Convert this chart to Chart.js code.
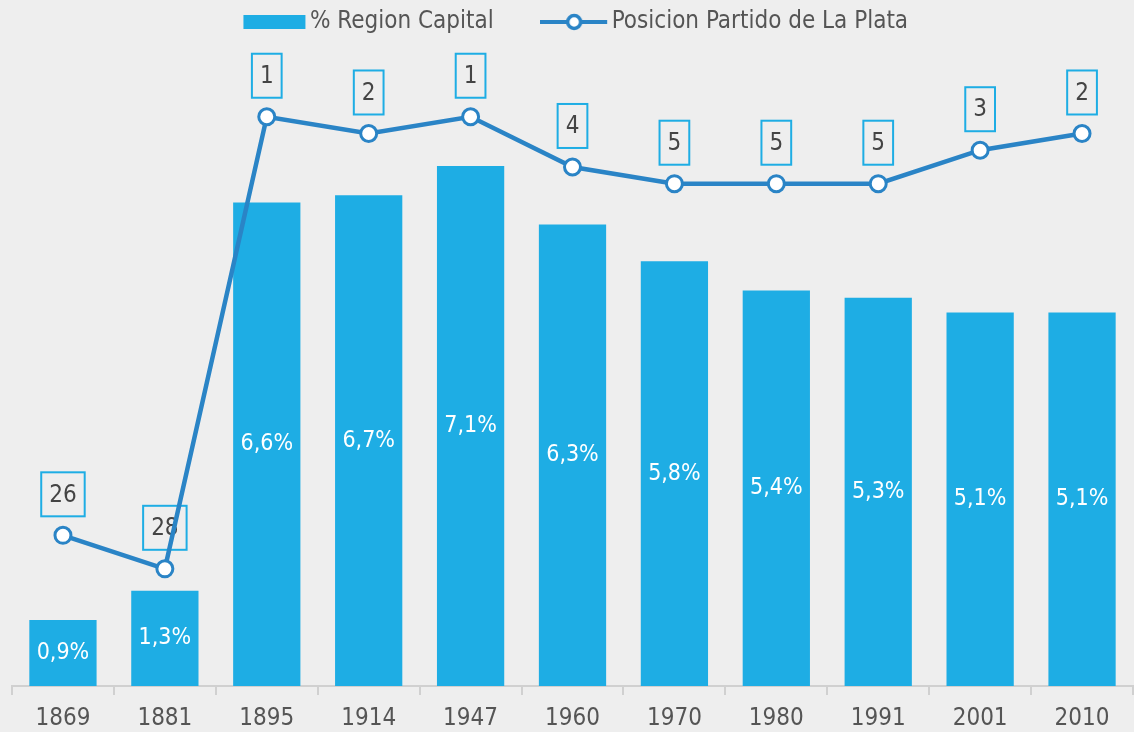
<!DOCTYPE html>
<html>
<head>
<meta charset="utf-8">
<script src="https://cdn.jsdelivr.net/npm/chart.js@4/dist/chart.umd.min.js"></script>
<style>
  html, body { margin: 0; padding: 0; background: #eeeeee; overflow: hidden; }
  #wrap { width: 1144px; height: 732px; }
</style>
</head>
<body>
<div id="wrap"><canvas id="chart"></canvas></div>
<script>
const years = ["1869", "1881", "1895", "1914", "1947", "1960", "1970", "1980", "1991", "2001", "2010"];
const regionShare = [0.9, 1.3, 6.6, 6.7, 7.1, 6.3, 5.8, 5.4, 5.3, 5.1, 5.1];
const laPlataRank = [26, 28, 1, 2, 1, 4, 5, 5, 5, 3, 2];

const FONT = "'DejaVu Sans Condensed', 'Liberation Sans Narrow', sans-serif";
const BAR = "#1eade4";
const LINE = "#2a84c6";

// legend swatches, same width so the shared pointStyleWidth fits both
function barSwatch() {
  const c = document.createElement("canvas");
  c.width = 69; c.height = 16;
  const g = c.getContext("2d");
  g.fillStyle = BAR;
  g.fillRect(5, 1, 62, 14);
  return c;
}
function lineSwatch() {
  const c = document.createElement("canvas");
  c.width = 69; c.height = 18;
  const g = c.getContext("2d");
  g.strokeStyle = LINE;
  g.lineWidth = 4;
  g.beginPath(); g.moveTo(0, 9); g.lineTo(67, 9); g.stroke();
  g.beginPath(); g.arc(34, 9, 6.5, 0, Math.PI * 2);
  g.fillStyle = "#fff"; g.fill();
  g.lineWidth = 3.5; g.stroke();
  return c;
}

const valueLabels = {
  id: "valueLabels",
  beforeDatasetsDraw(chart) {
    const ctx = chart.ctx;
    const meta = chart.getDatasetMeta(1);
    ctx.save();
    ctx.font = "24px " + FONT;
    ctx.textAlign = "center";
    ctx.textBaseline = "middle";
    meta.data.forEach((pt, i) => {
      const txt = String(laPlataRank[i]);
      const w = ctx.measureText(txt).width + 16;
      const h = 44;
      const cy = pt.y - 41;
      ctx.strokeStyle = BAR;
      ctx.lineWidth = 2;
      ctx.strokeRect(pt.x - w / 2, cy - h / 2, w, h);
      ctx.fillStyle = "#444";
      ctx.fillText(txt, pt.x, cy + 1);
    });
    ctx.restore();
  },
  afterDatasetDraw(chart, args) {
    if (args.index !== 0) return;
    const ctx = chart.ctx;
    ctx.save();
    ctx.font = "23px " + FONT;
    ctx.textAlign = "center";
    ctx.textBaseline = "middle";
    ctx.fillStyle = "#fff";
    args.meta.data.forEach((bar, i) => {
      const txt = regionShare[i].toFixed(1).replace(".", ",") + "%";
      ctx.fillText(txt, bar.x, (bar.y + bar.base) / 2);
    });
    ctx.restore();
  }
};

// legend block takes the whole band above the plot
const legendHeight = {
  id: "legendHeight",
  beforeLayout(chart) {
    const lg = chart.legend;
    if (lg && !lg._fixed) {
      const fit = lg.fit;
      lg.fit = function () { fit.call(this); this.height = 146; };
      lg._fixed = true;
    }
  }
};

const ctx = document.getElementById("chart").getContext("2d");

const chart = new Chart(ctx, {
  data: {
    labels: years,
    datasets: [
      {
        type: "bar",
        label: "% Region Capital",
        data: regionShare,
        backgroundColor: BAR,
        barPercentage: 0.66,
        categoryPercentage: 1,
        yAxisID: "y",
        order: 1,
      },
      {
        type: "line",
        label: "Posicion Partido de La Plata",
        data: laPlataRank,
        borderColor: LINE,
        borderWidth: 4.5,
        pointRadius: 8,
        pointBorderWidth: 3,
        pointBackgroundColor: "#fff",
        pointBorderColor: LINE,
        tension: 0,
        yAxisID: "y1",
        order: 0,
      },
    ],
  },
  options: {
    responsive: true,
    maintainAspectRatio: false,
    animation: false,
    layout: { padding: { left: 12, right: 0, top: -46, bottom: 0 } },
    plugins: {
      tooltip: { enabled: false },
      legend: {
        position: "top",
        labels: {
          usePointStyle: true,
          pointStyleWidth: 50,
          padding: 56,
          color: "#555",
          font: { family: FONT, size: 24 },
          generateLabels() {
            return [
              { text: "% Region Capital", pointStyle: barSwatch(), datasetIndex: 0, fontColor: "#555", lineWidth: 0 },
              { text: "Posicion Partido de La Plata", pointStyle: lineSwatch(), datasetIndex: 1, fontColor: "#555", lineWidth: 0 },
            ];
          },
        },
      },
    },
    scales: {
      x: {
        offset: true,
        afterFit(scale) { scale.height = 46; },
        grid: {
          offset: true,
          drawOnChartArea: false,
          drawTicks: true,
          tickLength: 9,
          color: "#d0d0d0",
          lineWidth: 2,
        },
        border: { color: "#d0d0d0", width: 2 },
        ticks: {
          color: "#555",
          padding: 12,
          font: { family: FONT, size: 24, lineHeight: 1 },
        },
      },
      y: { display: false, min: 0, max: 8 },
      y1: { display: false, reverse: true, min: 0, max: 35 },
    },
  },
  plugins: [valueLabels, legendHeight],
});
</script>
</body>
</html>
